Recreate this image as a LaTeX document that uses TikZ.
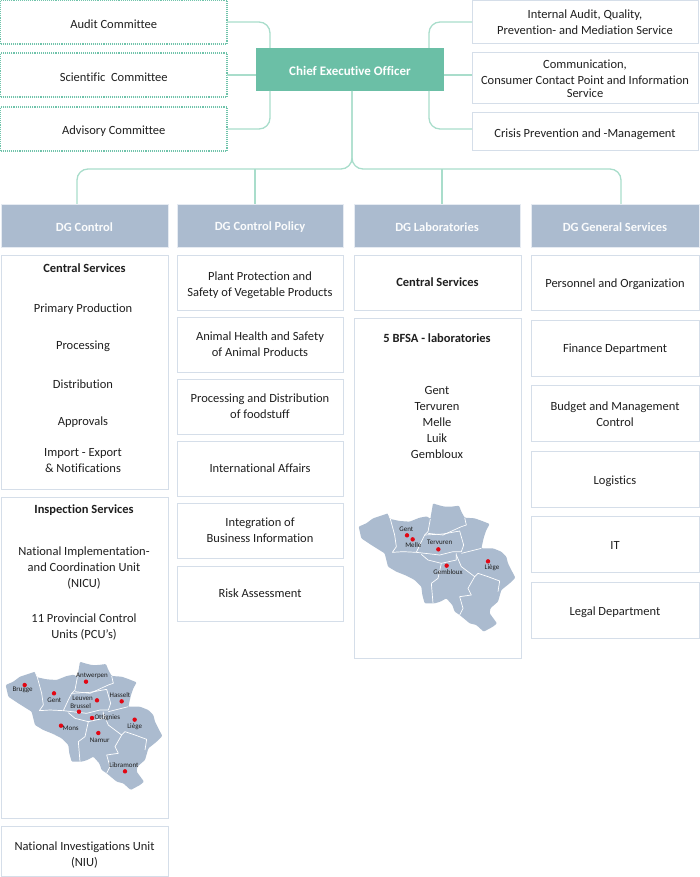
\documentclass[tikz,border=0pt]{standalone}
\usepackage{fontspec}
\setmainfont{Carlito}[Ligatures={NoCommon}]
\usetikzlibrary{calc}
\definecolor{ceoc}{HTML}{6BBFA6}
\definecolor{linec}{HTML}{A9DDCB}
\definecolor{dgc}{HTML}{ABBBCF}
\definecolor{edgec}{HTML}{D5DEE9}
\definecolor{dotc}{HTML}{6FC3AA}
\definecolor{txtc}{HTML}{1F1F1F}
\definecolor{mapc}{HTML}{ABBBCF}
\definecolor{dotred}{HTML}{E30613}
\tikzset{
  plainbox/.style={draw=edgec,line width=1pt,fill=white,inner sep=0pt,outer sep=0pt,align=center,text=txtc,font=\fontsize{12.5}{16}\selectfont},
  dotbox/.style={plainbox,draw=dotc,line width=1.2pt,dash pattern=on 1.1pt off 1pt},
  ceobox/.style={fill=ceoc,inner sep=0pt,outer sep=0pt,text=white,font=\fontsize{13}{16}\selectfont\bfseries},
  dgbox/.style={fill=dgc,draw=edgec!60!white,line width=.5pt,inner sep=0pt,outer sep=0pt,text=white!94!dgc,font=\fontsize{12.5}{16}\selectfont\bfseries},
  lbl/.style={inner sep=0pt,align=center,text=txtc,yshift=-1.5pt,font=\fontsize{12.5}{16}\selectfont},
  head/.style={lbl,font=\fontsize{12.5}{16}\selectfont\bfseries},
  conn/.style={draw=linec,line width=1.3pt,rounded corners=11pt},
  border/.style={draw=white,line width=.7pt,line join=round},
  mapl/.style={inner sep=0pt,text=txtc,font=\fontsize{7}{8}\selectfont},
  reddot/.style={circle,fill=dotred,inner sep=0pt,minimum size=4.4pt},
}
% name, style, x0, y0, x1, y1, text
\newcommand{\bxraw}[7]{%
  \pgfmathsetmacro{\bw}{#5-#3}\pgfmathsetmacro{\bh}{#6-#4}%
  \pgfmathsetmacro{\bcx}{(#3+#5)/2}\pgfmathsetmacro{\bcy}{(#4+#6)/2}%
  \node[#2,minimum width=\bw pt,minimum height=\bh pt] (#1) at (\bcx,\bcy) {#7};}
\newcommand{\bx}[7]{\bxraw{#1}{#2}{#3}{#4}{#5}{#6}{\rule{0pt}{13.5pt}#7}}
\newcommand{\bxm}[7]{\bxraw{#1}{#2}{#3}{#4}{#5}{#6}{\rule{0pt}{11.5pt}#7}}
\newcommand{\belgium}{%
  \fill[mapc,rounded corners=1pt] (17,105) -- (40,95) -- (60,80) -- (105,65) -- (112,82) -- (140,88) -- (170,90) -- (200,78) -- (222,74) -- (232,82) -- (240,35) -- (255,40) -- (275,45) -- (295,45) -- (318,42) -- (325,60) -- (335,78) -- (365,80) -- (385,87) -- (410,97) -- (400,115) -- (393,135) -- (385,170) -- (420,170) -- (445,180) -- (460,195) -- (465,215) -- (475,235) -- (487,258) -- (470,275) -- (445,295) -- (435,330) -- (412,350) -- (410,365) -- (432,395) -- (420,405) -- (392,420) -- (370,400) -- (350,395) -- (320,370) -- (305,360) -- (298,340) -- (280,320) -- (262,330) -- (245,335) -- (215,335) -- (208,310) -- (205,285) -- (185,265) -- (160,252) -- (130,240) -- (105,225) -- (100,205) -- (95,185) -- (55,160) -- (25,140) -- cycle;
  \draw[border] (105,65) -- (112,82) -- (125,130) -- (130,165) -- (118,182) -- (150,180) -- (190,182) -- (205,150) -- (215,130) -- (225,120) -- (232,82);
  \draw[border] (225,125) -- (270,130) -- (325,105) -- (340,100) -- (335,78);
  \draw[border] (215,130) -- (270,127) -- (320,118) -- (332,160) -- (325,180) -- (300,180) -- (260,190) -- (190,182);
  \draw[border] (325,185) -- (385,170);
  \draw[border] (205,188) -- (225,205) -- (265,215) -- (310,205) -- (310,185);
  \draw[border] (265,215) -- (255,260) -- (235,275) -- (240,335);
  \draw[border] (310,190) -- (325,225) -- (365,255) -- (375,245) -- (405,255) -- (440,268) -- (435,300);
  \draw[border] (365,255) -- (345,290) -- (355,310) -- (320,315) -- (330,350) -- (320,370);
}
\begin{document}
\begin{tikzpicture}[x=1pt,y=-1pt]
\useasboundingbox (0,0) rectangle (699,877);
\bx{audit}{dotbox}{.5}{0}{227}{44}{Audit Committee}
\bx{sci}{dotbox}{.5}{53}{227}{97}{Scientific\ \ Committee}
\bx{adv}{dotbox}{.5}{107}{227}{151}{Advisory Committee}
\bxraw{ceo}{ceobox}{256}{48}{444}{91}{\rule{0pt}{12pt}Chief Executive Officer}
\bxraw{ia}{plainbox}{472}{1}{698}{44}{Internal Audit, Quality,\\Prevention- and Mediation Service}
\bxraw{comm}{plainbox}{472}{53}{698}{104}{Communication,\\Consumer Contact Point and Information\\[-3pt]Service}
\bx{crisis}{plainbox}{472}{113}{698}{151}{Crisis Prevention and -Management}
\bxm{dga}{dgbox}{1}{204}{168}{247}{DG Control}
\bxm{dgb}{dgbox}{177}{204}{343}{247}{DG Control Policy}
\bxm{dgc}{dgbox}{354}{204}{520}{247}{DG Laboratories}
\bxm{dgd}{dgbox}{531}{204}{699}{247}{DG General Services}
% trunk coordinates
\coordinate (upl) at (270,48);
\coordinate (upr) at (429,48);
\coordinate (lol) at (270,91);
\coordinate (lor) at (429,91);
\coordinate (trunk) at (352,91);
\coordinate (bus) at (352,169);
\coordinate (ta) at (77,204);
\coordinate (tb) at (255,204);
\coordinate (tc) at (442,204);
\coordinate (td) at (621,204);
\draw[conn] (audit.east |- 0,22) -| (upl);
\draw[conn] (sci.east) -- (sci.east -| ceo.west);
\draw[conn] (adv.east) -| (lol);
\draw[conn] (ia.west |- 0,22) -| (upr);
\draw[conn] (ceo.east |- sci.east) -- (comm.west |- sci.east);
\draw[conn] (crisis.west |- adv.east) -| (lor);
\draw[conn] (trunk) |- (ta |- bus) -- (ta);
\draw[conn] (trunk) |- (td |- bus) -- (td);
\draw[conn] (tb |- bus) -- (tb);
\draw[conn] (tc |- bus) -- (tc);
% column 1
\bxraw{c1a}{plainbox}{1}{255}{168}{489}{}
\node[head] (t1) at (84.5,267) {Central Services};
\node[lbl] (t2) at (83,308) {Primary Production};
\node[lbl] (t3) at (83,345) {Processing};
\node[lbl] (t4) at (83,383) {Distribution};
\node[lbl] (t5) at (83,421) {Approvals};
\node[lbl] (t6) at (83,459) {Import - Export\\\& Notifications};
\bxraw{c1b}{plainbox}{1}{497}{168}{818}{}
\node[head] (t7) at (84,509) {Inspection Services};
\node[lbl] (t8) at (84,567) {National Implementation-\\and Coordination Unit\\(NICU)};
\node[lbl] (t9) at (84,626) {11 Provincial Control\\Units (PCU’s)};
\bxraw{c1c}{plainbox}{1}{826}{168}{876}{\rule{0pt}{16.5pt}National Investigations Unit\\(NIU)}
% column 2
\bx{c2a}{plainbox}{177}{255}{343}{310}{Plant Protection and\\Safety of Vegetable Products}
\bxraw{c2b}{plainbox}{177}{317}{343}{372}{Animal Health and Safety\\of Animal Products}
\bxraw{c2c}{plainbox}{177}{379}{343}{434}{Processing and Distribution\\of foodstuff}
\bxraw{c2d}{plainbox}{177}{441}{343}{496}{International Affairs}
\bxraw{c2e}{plainbox}{177}{503}{343}{558}{Integration of\\Business Information}
\bxraw{c2f}{plainbox}{177}{566}{343}{621}{Risk Assessment}
% column 3
\bxraw{c3a}{plainbox,font=\fontsize{12.5}{16}\selectfont\bfseries}{354}{255}{521}{310}{Central Services}
\bxraw{c3b}{plainbox}{354}{318}{521}{658}{}
\node[head] (t10) at (437,337) {5 BFSA - laboratories};
\node[lbl] (t11) at (437,421) {Gent\\Tervuren\\Melle\\Luik\\Gembloux};
% column 4
\bxm{c4a}{plainbox}{531}{255}{699}{310}{Personnel and Organization}
\bxm{c4b}{plainbox}{531}{320}{699}{376}{Finance Department}
\bxm{c4c}{plainbox}{531}{385}{699}{441}{Budget and Management\\Control}
\bx{c4d}{plainbox}{531}{451}{699}{507}{Logistics}
\bxm{c4e}{plainbox}{531}{516}{699}{572}{IT}
\bx{c4f}{plainbox}{531}{582}{699}{638}{Legal Department}
% provincial map
\begin{scope}[shift={(0,650)},x=.33333pt,y=-.33333pt]
\belgium
\foreach \px/\py in {74/105,162/130,258/95,291/151,237/185,365/154,276/204,183/227,404/209,295/249,375/364}
  \node[reddot] at (\px,\py) {};
\node[mapl] (m1) at (68,121) {Brugge};
\node[mapl] (m2) at (163,150) {Gent};
\node[mapl] (m3) at (276,77) {Antwerpen};
\node[mapl] (m4) at (248,146) {Leuven};
\node[mapl] (m5) at (242,168) {Brussel};
\node[mapl] (m6) at (360,134) {Hasselt};
\node[mapl] (m7) at (322,203) {Ottignies};
\node[mapl] (m8) at (212,234) {Mons};
\node[mapl] (m9) at (404,229) {Liège};
\node[mapl] (m10) at (299,270) {Namur};
\node[mapl] (m11) at (372,345) {Libramont};
\end{scope}
% laboratory map
\begin{scope}[shift={(353,491.67)},x=.33333pt,y=-.33333pt]
\belgium
\end{scope}
\begin{scope}[shift={(352,500)},x=.33333pt,y=-.33333pt]
\foreach \px/\py in {165/106,182/118,259/148,284/197,408/184}
  \node[reddot] at (\px,\py) {};
\node[mapl] (l1) at (163,87) {Gent};
\node[mapl] (l2) at (184,135) {Melle};
\node[mapl] (l3) at (263,127) {Tervuren};
\node[mapl] (l4) at (288,216) {Gembloux};
\node[mapl] (l5) at (420,204) {Liège};
\end{scope}
\end{tikzpicture}
\end{document}
